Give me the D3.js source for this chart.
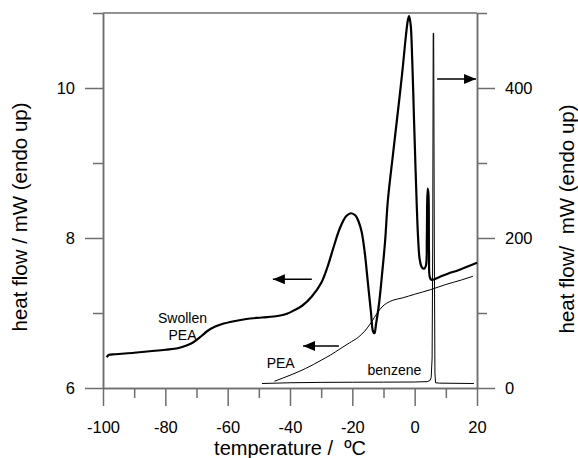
<!DOCTYPE html>
<html>
<head>
<meta charset="utf-8">
<script src="https://cdn.jsdelivr.net/npm/d3@7"></script>
<style>
  body { margin: 0; background: #fff; }
  svg { font-family: "Liberation Sans", Arial, sans-serif; }
  text { white-space: pre; }
</style>
</head>
<body>
<div id="chart"></div>
<script>
// Swollen PEA (thick, left axis): [temperature, heat flow mW]
const swollenPEA = [
  [-98.8, 6.41], [-98.2, 6.44], [-96, 6.45], [-90, 6.47], [-85, 6.49], [-80, 6.51],
  [-76, 6.53], [-73, 6.57], [-71, 6.61], [-68.5, 6.69], [-66.5, 6.76], [-64, 6.82],
  [-62, 6.85], [-58, 6.89], [-54, 6.92], [-49, 6.94], [-44, 6.96], [-41, 6.99],
  [-38.5, 7.04], [-36, 7.1], [-33, 7.22], [-30, 7.4], [-28, 7.61], [-26, 7.88],
  [-24, 8.13], [-22, 8.29], [-20.5, 8.33], [-19, 8.3], [-18, 8.22], [-17, 8.08],
  [-16, 7.8], [-15, 7.4], [-14, 7.0], [-13.4, 6.76], [-12.9, 6.73], [-12.4, 6.85],
  [-11.5, 7.1], [-10.5, 7.5], [-9.5, 7.95], [-8.6, 8.5], [-7, 9.1], [-5.7, 9.57],
  [-4, 10.2], [-2.8, 10.7], [-2.2, 10.9], [-1.8, 10.96], [-1.3, 10.85], [-0.8, 10.4],
  [-0.2, 9.57], [0.3, 8.9], [0.7, 8.4], [1.1, 8.0], [1.6, 7.72], [2.3, 7.61],
  [3.0, 7.59], [3.6, 7.63], [3.9, 8.0], [4.15, 8.66], [4.4, 8.6], [4.6, 7.8],
  [4.9, 7.47], [5.5, 7.44], [8, 7.48], [11, 7.53], [14, 7.57], [17, 7.62], [20, 7.67]
];

// PEA (thin, left axis)
const pea = [
  [-45, 6.09], [-40, 6.17], [-35, 6.26], [-30, 6.37], [-27, 6.44], [-24, 6.52],
  [-21, 6.6], [-18, 6.68], [-16, 6.76], [-14, 6.87], [-12, 7.0], [-10.5, 7.08],
  [-9, 7.13], [-7, 7.17], [-4, 7.2], [0, 7.25], [5, 7.31], [10, 7.38], [15, 7.44],
  [18.7, 7.49]
];

// benzene (thin, right axis)
const benzene = [
  [-49, 6], [-40, 7], [-30, 7.5], [-20, 7.7], [-10, 7.8], [0, 8], [4, 8.5], [4.9, 10],
  [5.3, 14], [5.6, 40], [5.8, 200], [5.95, 473], [6.1, 473], [6.3, 200], [6.5, 20],
  [6.7, 7], [8, 6.5], [19, 6]
];

const xTicksMajor = [-100, -80, -60, -40, -20, 0, 20];
const xTicksMinor = [-90, -70, -50, -30, -10, 10];
const yLeftMajor = [6, 8, 10];
const yLeftMinor = [7, 9, 11];
const yRightMajor = [0, 200, 400];
const yRightMinor = [100, 300, 500];

// annotations: [x1, x2, y] arrows, tip at x2
const arrowsLeft = [[-33, -45.5, 7.45], [-24.3, -35.8, 6.56]];
const arrowsRight = [[7.2, 19.7, 412]];
const labels = [
  { text: "Swollen", x: -74.5, y: 6.87 },
  { text: "PEA", x: -74.5, y: 6.64 },
  { text: "PEA", x: -43, y: 6.27 },
  { text: "benzene", x: -6.5, y: 6.17 }
];

const W = 578, H = 458;
const axisColor = "#6e6e6e";

const svg = d3.select("#chart").append("svg")
  .attr("width", W).attr("height", H);

const x = d3.scaleLinear().domain([-100, 20]).range([103, 477]);
const yL = d3.scaleLinear().domain([6, 11]).range([388, 13]);
const yR = d3.scaleLinear().domain([0, 500]).range([388, 13]);

const fmt = d => String(d); // plain hyphen minus like the original

// arrow head
svg.append("defs").append("marker")
  .attr("id", "head")
  .attr("viewBox", "0 0 12 10")
  .attr("refX", 12).attr("refY", 5)
  .attr("markerWidth", 12).attr("markerHeight", 10)
  .attr("markerUnits", "userSpaceOnUse")
  .attr("orient", "auto")
  .append("path").attr("d", "M0,0L12,5L0,10Z").attr("fill", "#000");

function styleAxis(g) {
  g.select(".domain").attr("stroke", axisColor).attr("stroke-width", 1.5);
  g.selectAll(".tick line").attr("stroke", axisColor).attr("stroke-width", 1.5);
  g.selectAll(".tick text").attr("fill", "#000").attr("font-size", "16.5px");
}

// bottom axis
svg.append("g").attr("transform", "translate(0,388)")
  .call(d3.axisBottom(x).tickValues(xTicksMinor).tickSize(10).tickSizeOuter(0).tickFormat(""))
  .call(styleAxis);
svg.append("g").attr("transform", "translate(0,388)")
  .call(d3.axisBottom(x).tickValues(xTicksMajor).tickSize(18).tickSizeOuter(0).tickPadding(15).tickFormat(fmt))
  .call(styleAxis);

// left axis
svg.append("g").attr("transform", "translate(103,0)")
  .call(d3.axisLeft(yL).tickValues(yLeftMinor).tickSize(10).tickSizeOuter(0).tickFormat(""))
  .call(styleAxis);
svg.append("g").attr("transform", "translate(103,0)")
  .call(d3.axisLeft(yL).tickValues(yLeftMajor).tickSize(18).tickSizeOuter(0).tickPadding(10).tickFormat(fmt))
  .call(styleAxis);

// right axis
svg.append("g").attr("transform", "translate(477,0)")
  .call(d3.axisRight(yR).tickValues(yRightMinor).tickSize(10).tickSizeOuter(0).tickFormat(""))
  .call(styleAxis);
svg.append("g").attr("transform", "translate(477,0)")
  .call(d3.axisRight(yR).tickValues(yRightMajor).tickSize(18).tickSizeOuter(0).tickPadding(10).tickFormat(fmt))
  .call(styleAxis);

// top border
svg.append("line")
  .attr("x1", x(-100)).attr("x2", x(20)).attr("y1", yL(11)).attr("y2", yL(11))
  .attr("stroke", axisColor).attr("stroke-width", 1.5);

// axis titles
svg.append("text")
  .attr("x", x(-40)).attr("y", 455)
  .attr("text-anchor", "middle").attr("font-size", "20px")
  .text("temperature /  ºC");
svg.append("text")
  .attr("transform", "translate(27,217) rotate(-90)")
  .attr("text-anchor", "middle").attr("font-size", "20.5px")
  .text("heat flow / mW (endo up)");
svg.append("text")
  .attr("transform", "translate(574,219) rotate(-90)")
  .attr("text-anchor", "middle").attr("font-size", "20.5px")
  .text("heat flow/  mW (endo up)");

// curves
const lineL = d3.line().x(d => x(d[0])).y(d => yL(d[1])).curve(d3.curveMonotoneX);
const lineR = d3.line().x(d => x(d[0])).y(d => yR(d[1]));

svg.append("path").datum(benzene)
  .attr("d", lineR).attr("fill", "none").attr("stroke", "#000").attr("stroke-width", 1);
svg.append("path").datum(pea)
  .attr("d", lineL).attr("fill", "none").attr("stroke", "#000").attr("stroke-width", 1);
svg.append("path").datum(swollenPEA)
  .attr("d", d3.line().x(d => x(d[0])).y(d => yL(d[1])).curve(d3.curveCatmullRom.alpha(0.5)))
  .attr("fill", "none").attr("stroke", "#000").attr("stroke-width", 2.2);

// arrows
arrowsLeft.forEach(a => {
  svg.append("line")
    .attr("x1", x(a[0])).attr("x2", x(a[1])).attr("y1", yL(a[2])).attr("y2", yL(a[2]))
    .attr("stroke", "#000").attr("stroke-width", 1.5).attr("marker-end", "url(#head)");
});
arrowsRight.forEach(a => {
  svg.append("line")
    .attr("x1", x(a[0])).attr("x2", x(a[1])).attr("y1", yR(a[2])).attr("y2", yR(a[2]))
    .attr("stroke", "#000").attr("stroke-width", 1.5).attr("marker-end", "url(#head)");
});

// curve labels
labels.forEach(l => {
  svg.append("text")
    .attr("x", x(l.x)).attr("y", yL(l.y))
    .attr("text-anchor", "middle").attr("font-size", "14px")
    .text(l.text);
});
</script>
</body>
</html>
